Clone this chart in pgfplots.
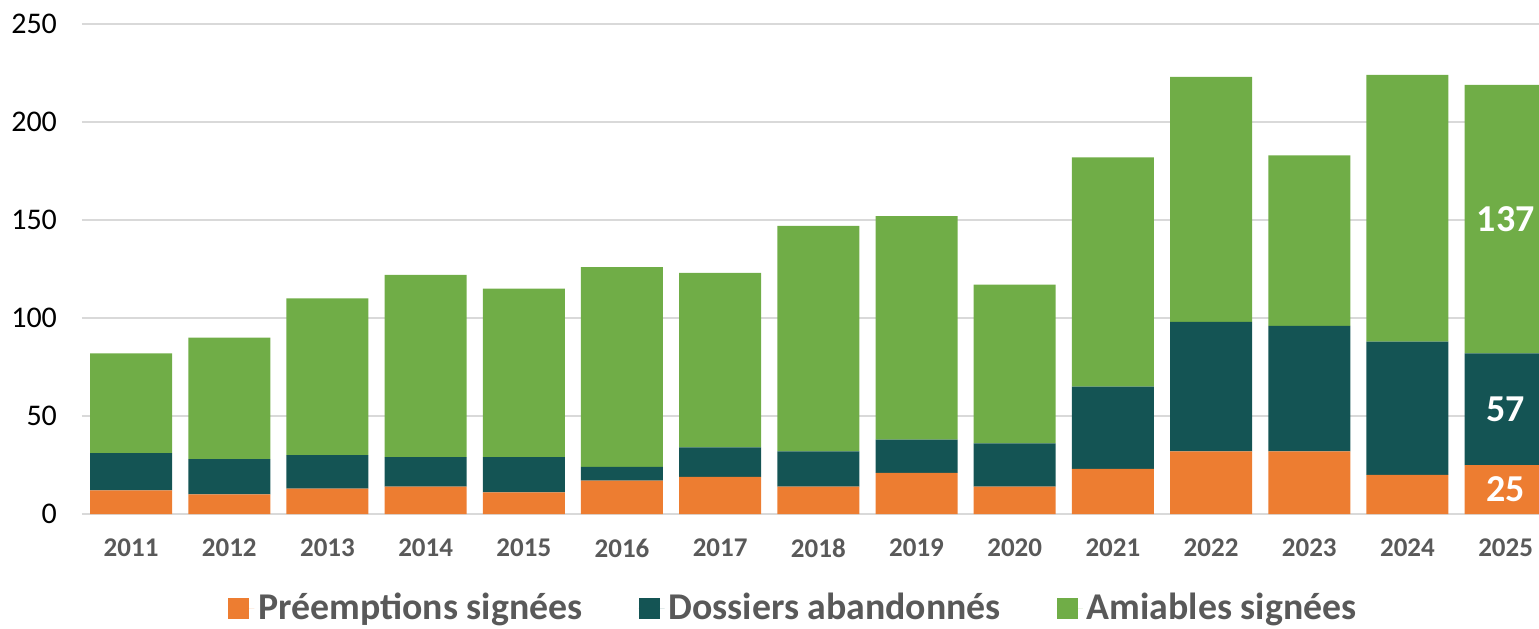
\documentclass[border=0pt]{standalone}
\usepackage{pgfplots}
\pgfplotsset{compat=1.18}
\usepackage{fontspec}
\setmainfont{Carlito}
\definecolor{cOr}{HTML}{ED7D31}
\definecolor{cTe}{HTML}{145454}
\definecolor{cGr}{HTML}{70AD47}
\definecolor{cTx}{HTML}{595959}
\definecolor{cGd}{HTML}{D9D9D9}
\begin{document}
\begin{tikzpicture}
\path[use as bounding box] (-41pt,-57pt) rectangle (728.5pt,257pt);
\begin{axis}[
  at={(0,0)}, anchor=south west,
  scale only axis, width=728.5pt, height=245pt,
  ybar stacked, bar width=41pt,
  xmin=-0.5, xmax=14.34, ymin=0, ymax=250,
  enlargelimits=false,
  axis line style={draw=none},
  major tick length=0pt,
  ytick={0,50,100,150,200,250},
  ymajorgrids, grid style={cGd, line width=0.9pt},
  xtick={0,...,14},
  xticklabels={2011,2012,2013,2014,2015,2016,2017,2018,2019,2020,2021,2022,2023,2024,2025},
  x tick label style={font=\bfseries\fontsize{13.5}{14}\selectfont, text=cTx, yshift=-9pt},
  y tick label style={font=\fontsize{15}{16}\selectfont, xshift=-9pt},
  /pgf/number format/assume math mode=true,
  legend columns=3,
  legend style={draw=none, fill=none, at={(0.489,-0.192)}, anchor=center,
    font=\bfseries\fontsize{18.9}{20}\selectfont, text=cTx,
    /tikz/every even column/.append style={column sep=26pt}},
  legend image code/.code={\fill[#1] (0pt,-5.25pt) rectangle (10.5pt,5.25pt); \path (0pt,0pt) -- (13pt,0pt);},
]
\addplot[fill=cOr, draw=none] coordinates {(0,12) (1,10) (2,13) (3,14) (4,11) (5,17) (6,19) (7,14) (8,21) (9,14) (10,23) (11,32) (12,32) (13,20) (14,25)};
\addplot[fill=cTe, draw=none] coordinates {(0,19) (1,18) (2,17) (3,15) (4,18) (5,7) (6,15) (7,18) (8,17) (9,22) (10,42) (11,66) (12,64) (13,68) (14,57)};
\addplot[fill=cGr, draw=none] coordinates {(0,51) (1,62) (2,80) (3,93) (4,86) (5,102) (6,89) (7,115) (8,114) (9,81) (10,117) (11,125) (12,87) (13,136) (14,137)};
\legend{Préemptions signées, Dossiers abandonnés, Amiables signées}
\coordinate (lA) at (axis cs:14,12.5);
\coordinate (lB) at (axis cs:14,53.5);
\coordinate (lC) at (axis cs:14,150.5);
\end{axis}
\node[text=white, font=\bfseries\fontsize{19}{20}\selectfont] at (lA) {25};
\node[text=white, font=\bfseries\fontsize{19}{20}\selectfont] at (lB) {57};
\node[text=white, font=\bfseries\fontsize{19}{20}\selectfont] at (lC) {137};
\end{tikzpicture}
\end{document}
